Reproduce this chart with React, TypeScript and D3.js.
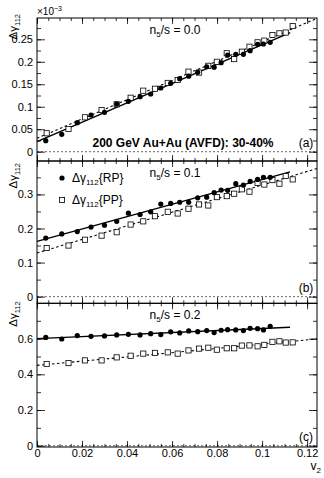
import React, { useEffect, useRef } from 'react';
import * as d3 from 'd3';

// v2 bin centres for the two correlators
const rpV2 = [0.0039, 0.011, 0.0179, 0.024, 0.030, 0.0354, 0.0406, 0.0458, 0.0505, 0.055, 0.0594, 0.0634,
    0.0674, 0.0714, 0.0754, 0.0787, 0.0818, 0.0847, 0.0883, 0.0917, 0.0947, 0.098, 0.1006, 0.1036];
const ppV2 = [0.0043, 0.014, 0.0213, 0.0287, 0.0354, 0.0416, 0.0472, 0.0524, 0.0581, 0.0625, 0.0673, 0.072,
    0.0761, 0.0799, 0.0843, 0.0876, 0.091, 0.0944, 0.098, 0.101, 0.1046, 0.1077, 0.1105, 0.1136];

// panel (a) n5/s = 0.0, values in units of 1e-3
const rpA = [0.0245, 0.0387, 0.0645, 0.0816, 0.0876, 0.106, 0.112, 0.1223, 0.1283, 0.1417, 0.152, 0.1624,
    0.168, 0.1766, 0.189, 0.188, 0.198, 0.215, 0.2166, 0.2166, 0.2247, 0.239, 0.2396, 0.2433];
const ppA = [0.041, 0.0505, 0.0765, 0.0927, 0.1054, 0.12, 0.1357, 0.14, 0.153, 0.1595, 0.178, 0.176,
    0.191, 0.2, 0.219, 0.206, 0.2224, 0.2335, 0.2433, 0.247, 0.2596, 0.2633, 0.265, 0.2795];

// panel (b) n5/s = 0.1
const rpB = [0.172, 0.184, 0.191, 0.204, 0.2095, 0.221, 0.245, 0.241, 0.249, 0.2715, 0.2735, 0.277,
    0.277, 0.29, 0.292, 0.305, 0.3128, 0.312, 0.3315, 0.3275, 0.338, 0.344, 0.35, 0.35];
const ppB = [0.1427, 0.15, 0.167, 0.179, 0.189, 0.2115, 0.221, 0.236, 0.249, 0.244, 0.258, 0.2705,
    0.2675, 0.292, 0.295, 0.302, 0.315, 0.308, 0.334, 0.329, 0.342, 0.3315, 0.354, 0.344];

// panel (c) n5/s = 0.2
const rpC = [0.607, 0.598, 0.617, 0.613, 0.615, 0.621, 0.624, 0.621, 0.628, 0.6226, 0.638, 0.632,
    0.643, 0.639, 0.645, 0.634, 0.647, 0.65, 0.649, 0.645, 0.658, 0.656, 0.649, 0.669];
const ppC = [0.458, 0.463, 0.478, 0.478, 0.495, 0.504, 0.516, 0.52, 0.523, 0.516, 0.534, 0.544,
    0.549, 0.538, 0.546, 0.546, 0.561, 0.562, 0.557, 0.565, 0.582, 0.585, 0.578, 0.579];

// linear fits, as [v2, value] end points
const fitRpA = [[0, 0.0222], [0.1125, 0.265]];
const fitPpA = [[0, 0.0298], [0.1244, 0.2967]];
const fitRpB = [[0, 0.162], [0.1124, 0.366]];
const fitPpB = [[0, 0.128], [0.1244, 0.376]];
const fitRpC = [[0, 0.600], [0.1124, 0.664]];
const fitPpC = [[0, 0.450], [0.1244, 0.598]];

const nsLabels = ['0.0', '0.1', '0.2'];
const panelTags = ['(a)', '(b)', '(c)'];

const FONT = '"Liberation Sans", Arial, Helvetica, sans-serif';

const App = () => {
    const ref = useRef<SVGSVGElement | null>(null);

    useEffect(() => {
        const svg = d3.select(ref.current);
        svg.selectAll('*').remove();

        const left = 37, right = 317;
        const x = d3.scaleLinear().domain([0, 0.1244]).range([left, right]);

        const panels = [
            { top: 18, bottom: 161, domain: [-0.0207, 0.2974], major: 0.05, minor: 0.025, rp: rpA, pp: ppA, fitRp: fitRpA, fitPp: fitPpA, titleOff: -4 },
            { top: 161, bottom: 303.3, domain: [-0.0195, 0.398], major: 0.1, minor: 0.05, rp: rpB, pp: ppB, fitRp: fitRpB, fitPp: fitPpB, titleOff: 2 },
            { top: 303.3, bottom: 447, domain: [-0.0073, 0.798], major: 0.2, minor: 0.1, rp: rpC, pp: ppC, fitRp: fitRpC, fitPp: fitPpC, titleOff: -2 },
        ];

        const steps = (max: number, step: number) =>
            d3.range(0, Math.floor(max / step + 1e-6) + 1).map(i => +(i * step).toFixed(4));

        const xMajor = steps(0.1244, 0.02);
        const xMinor = steps(0.1244, 0.005);

        const styleAxis = (sel: any) => {
            sel.select('.domain').remove();
            sel.selectAll('line').attr('stroke', '#000').attr('stroke-width', 0.8);
            sel.selectAll('text').attr('font-family', FONT).attr('font-size', 11).attr('fill', '#000');
        };

        panels.forEach((p, i) => {
            const y = d3.scaleLinear().domain(p.domain).range([p.bottom, p.top]);
            const g = svg.append('g');
            const yMajor = steps(p.domain[1], p.major);
            const yMinor = steps(p.domain[1], p.minor);

            // dashed zero line
            g.append('line')
                .attr('x1', left).attr('x2', right)
                .attr('y1', y(0)).attr('y2', y(0))
                .attr('stroke', '#444').attr('stroke-width', 0.8)
                .attr('stroke-dasharray', '2,2');

            // fits
            const line = d3.line<number[]>().x(d => x(d[0])).y(d => y(d[1]));
            g.append('path').datum(p.fitPp)
                .attr('d', line).attr('fill', 'none')
                .attr('stroke', '#000').attr('stroke-width', 1.1)
                .attr('stroke-dasharray', '2.5,2.5');
            g.append('path').datum(p.fitRp)
                .attr('d', line).attr('fill', 'none')
                .attr('stroke', '#000').attr('stroke-width', 1.4);

            // markers
            g.selectAll('.pp').data(p.pp).enter().append('rect')
                .attr('x', (d, j) => x(ppV2[j]) - 2.6)
                .attr('y', d => y(d) - 2.6)
                .attr('width', 5.2).attr('height', 5.2)
                .attr('fill', '#fff').attr('stroke', '#000').attr('stroke-width', 0.8);
            g.selectAll('.rp').data(p.rp).enter().append('circle')
                .attr('cx', (d, j) => x(rpV2[j]))
                .attr('cy', d => y(d))
                .attr('r', 2.6)
                .attr('fill', '#000');

            // axes, ticks pointing inwards on all four sides
            g.append('g').attr('transform', `translate(${left},0)`)
                .call(d3.axisLeft(y).tickValues(yMajor).tickSize(-8).tickPadding(4).tickFormat(d3.format('~g') as any))
                .call(styleAxis);
            g.append('g').attr('transform', `translate(${left},0)`)
                .call(d3.axisLeft(y).tickValues(yMinor).tickSize(-4).tickFormat(() => ''))
                .call(styleAxis);
            g.append('g').attr('transform', `translate(${right},0)`)
                .call(d3.axisRight(y).tickValues(yMajor).tickSize(-8).tickFormat(() => ''))
                .call(styleAxis);
            g.append('g').attr('transform', `translate(${right},0)`)
                .call(d3.axisRight(y).tickValues(yMinor).tickSize(-4).tickFormat(() => ''))
                .call(styleAxis);
            g.append('g').attr('transform', `translate(0,${p.top})`)
                .call(d3.axisTop(x).tickValues(xMajor).tickSize(-6).tickFormat(() => ''))
                .call(styleAxis);
            g.append('g').attr('transform', `translate(0,${p.top})`)
                .call(d3.axisTop(x).tickValues(xMinor).tickSize(-3).tickFormat(() => ''))
                .call(styleAxis);
            g.append('g').attr('transform', `translate(0,${p.bottom})`)
                .call(d3.axisBottom(x).tickValues(xMajor).tickSize(-6).tickPadding(2)
                    .tickFormat(i === 2 ? (d3.format('~g') as any) : () => ''))
                .call(styleAxis);
            g.append('g').attr('transform', `translate(0,${p.bottom})`)
                .call(d3.axisBottom(x).tickValues(xMinor).tickSize(-3).tickFormat(() => ''))
                .call(styleAxis);

            // frame
            g.append('rect')
                .attr('x', left).attr('y', p.top)
                .attr('width', right - left).attr('height', p.bottom - p.top)
                .attr('fill', 'none').attr('stroke', '#000').attr('stroke-width', 1);

            // y-axis title
            const yt = g.append('text')
                .attr('transform', `translate(17,${p.top + p.titleOff}) rotate(-90)`)
                .attr('text-anchor', 'end')
                .attr('font-family', FONT).attr('font-size', 11.5);
            yt.append('tspan').text('Δγ');
            yt.append('tspan').attr('dy', 3).attr('font-size', 7.5).text('112');

            // n5/s label
            const ns = g.append('text')
                .attr('x', 175).attr('y', p.top + 16)
                .attr('text-anchor', 'middle')
                .attr('font-family', FONT).attr('font-size', 12);
            ns.append('tspan').text('n');
            ns.append('tspan').attr('dy', 3).attr('font-size', 8).text('5');
            ns.append('tspan').attr('dy', -3).text(`/s = ${nsLabels[i]}`);

            // panel tag
            g.append('text')
                .attr('x', 306).attr('y', y(0) - 5)
                .attr('text-anchor', 'middle')
                .attr('font-family', FONT).attr('font-size', 12)
                .text(panelTags[i]);
        });

        // exponent for panel (a)
        const ex = svg.append('text')
            .attr('x', 37).attr('y', 15)
            .attr('font-family', FONT).attr('font-size', 10);
        ex.append('tspan').text('×10');
        ex.append('tspan').attr('dy', -4).attr('font-size', 7).text('−3');

        // system label
        svg.append('text')
            .attr('x', 183).attr('y', 147)
            .attr('text-anchor', 'middle')
            .attr('font-family', FONT).attr('font-size', 12).attr('font-weight', 'bold')
            .text('200 GeV Au+Au (AVFD): 30-40%');

        // legend in panel (b)
        const legend = [
            { label: 'RP', y: 178 },
            { label: 'PP', y: 200 },
        ];
        legend.forEach((l, k) => {
            if (k === 0) {
                svg.append('circle').attr('cx', 62).attr('cy', l.y).attr('r', 2.6).attr('fill', '#000');
            } else {
                svg.append('rect').attr('x', 59.4).attr('y', l.y - 2.6).attr('width', 5.2).attr('height', 5.2)
                    .attr('fill', '#fff').attr('stroke', '#000').attr('stroke-width', 0.8);
            }
            const t = svg.append('text')
                .attr('x', 72).attr('y', l.y + 4)
                .attr('font-family', FONT).attr('font-size', 12);
            t.append('tspan').text('Δγ');
            t.append('tspan').attr('dy', 3).attr('font-size', 8).text('112');
            t.append('tspan').attr('dy', -3).text(`{${l.label}}`);
        });

        // x-axis title
        const xt = svg.append('text')
            .attr('x', 321).attr('y', 470)
            .attr('text-anchor', 'end')
            .attr('font-family', FONT).attr('font-size', 12);
        xt.append('tspan').text('v');
        xt.append('tspan').attr('dy', 3).attr('font-size', 8).text('2');
    }, []);

    return (
        <svg ref={ref} width={324} height={478}
            style={{ position: 'absolute', left: 0, top: 0, background: '#fff' }} />
    );
};

export default App;
